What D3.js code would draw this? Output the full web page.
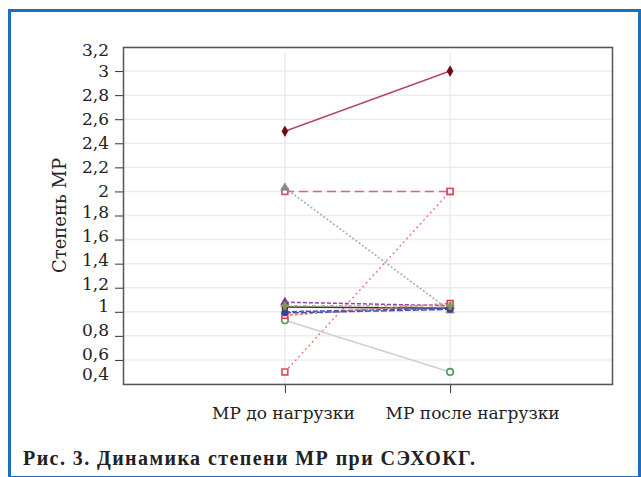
<!DOCTYPE html>
<html>
<head>
<meta charset="utf-8">
<script src="https://cdn.jsdelivr.net/npm/d3@7"></script>
<style>
  body { margin: 0; background: #fff; }
  svg { display: block; }
</style>
</head>
<body>
<script>
// data
const categories = ['МР до нагрузки', 'МР после нагрузки'];
const before     = [2.5, 2.0, 2.03, 0.5, 0.93, 1.08, 1.04, 1.0, 0.97, 0.99, 1.05];
const after      = [3.0, 2.0, 1.01, 2.0, 0.5, 1.05, 1.03, 1.03, 1.07, 1.02, 1.05];
const yTicks     = [0.4, 0.6, 0.8, 1, 1.2, 1.4, 1.6, 1.8, 2, 2.2, 2.4, 2.6, 2.8, 3, 3.2];
const caption    = 'Рис. 3. Динамика степени МР при СЭХОКГ.';
const yTitle     = 'Степень МР';

// styles per series
const lineColors  = ['#b04a62', '#d6609a', '#a8a8a8', '#f27a7a', '#cfcfcf', '#8a4aa8', '#333', '#4058c0', '#e8707a', '#5050a0', '#b0b080'];
const markColors  = ['#6e0a18', '#d04a8a', '#8a8a8a', '#e24a5a', '#4e9e58', '#7a3a9a', '#222', '#3a4ab8', '#e03a4a', '#404090', '#909060'];
const dashes      = [null, '9,5', '2,2', '2,3', null, '4,2', null, '5,2', '3,2', '6,2', '4,2,1,2'];
const shapes      = ['diamond', 'squareOpen', 'triangle', 'squareOpen', 'circleOpen', 'triangle', 'square', 'circle', 'squareOpen', 'circle', 'cross'];

const W = 641, H = 477;
const margin = {left: 123, right: 29, top: 47, bottom: 93};

const svg = d3.select('body').append('svg')
  .attr('width', W)
  .attr('height', H);

// outer blue frame
svg.append('rect')
  .attr('x', 9.5).attr('y', 10.5)
  .attr('width', 630).attr('height', 467)
  .attr('fill', 'none')
  .attr('stroke', '#1c6fbf')
  .attr('stroke-width', 3);

const x = d3.scalePoint()
  .domain(categories)
  .range([margin.left, W - margin.right])
  .padding(0.98);

const y = d3.scaleLinear()
  .domain([0.4, 3.2])
  .range([H - margin.bottom, margin.top]);

// grid
svg.append('g')
  .selectAll('line')
  .data(yTicks)
  .enter().append('line')
  .attr('x1', margin.left).attr('x2', W - margin.right)
  .attr('y1', d => y(d)).attr('y2', d => y(d))
  .attr('stroke', '#ececec')
  .attr('stroke-width', 1.5);

svg.append('g')
  .selectAll('line')
  .data(categories)
  .enter().append('line')
  .attr('x1', d => x(d)).attr('x2', d => x(d))
  .attr('y1', margin.top + 6).attr('y2', H - margin.bottom)
  .attr('stroke', '#ececec')
  .attr('stroke-width', 1.5);

// y axis
const yAxis = svg.append('g')
  .attr('transform', 'translate(' + margin.left + ',0)')
  .call(d3.axisLeft(y).tickValues(yTicks).tickSize(8).tickFormat(d => String(d).replace('.', ',')));
yAxis.select('.domain').remove();
yAxis.selectAll('.tick line').attr('stroke', '#333');
yAxis.selectAll('.tick text')
  .attr('x', -14)
  .attr('dy', null)
  .attr('y', d => d === 0.4 ? -5 : d <= 1 ? 0 : d < 2 ? 2 : d >= 3.2 ? 8 : 5)
  .style('font-family', '"DejaVu Serif", serif')
  .style('font-size', '17px')
  .attr('fill', '#222');
yAxis.selectAll('.tick').filter(d => d === 0.4 || d === 3.2).select('line').remove();

// x axis
const xAxis = svg.append('g')
  .attr('transform', 'translate(0,' + (H - margin.bottom) + ')')
  .call(d3.axisBottom(x).tickSize(9).tickPadding(14));
xAxis.select('.domain').remove();
xAxis.selectAll('.tick line').attr('stroke', '#333');
xAxis.selectAll('.tick text')
  .style('font-family', '"DejaVu Serif", serif')
  .style('font-size', '17px')
  .attr('fill', '#222')
  .attr('dx', (d, i) => i === 1 ? 22 : -2);

// plot frame
svg.append('rect')
  .attr('x', margin.left + 0.5).attr('y', margin.top + 0.5)
  .attr('width', W - margin.left - margin.right)
  .attr('height', H - margin.top - margin.bottom)
  .attr('fill', 'none')
  .attr('stroke', '#555')
  .attr('stroke-width', 1.5);

// y title
svg.append('text')
  .attr('transform', 'translate(66,' + ((margin.top + H - margin.bottom) / 2) + ') rotate(-90)')
  .attr('text-anchor', 'middle')
  .style('font-family', '"DejaVu Serif", serif')
  .style('font-size', '18px')
  .attr('fill', '#222')
  .text(yTitle);

// series lines
const series = before.map((b, i) => ({i, values: [b, after[i]]}));
const line = d3.line()
  .x((d, k) => x(categories[k]))
  .y(d => y(d));

const gs = svg.append('g');
series.forEach(s => {
  gs.append('path')
    .attr('d', line(s.values))
    .attr('fill', 'none')
    .attr('stroke', lineColors[s.i])
    .attr('stroke-width', 1.5)
    .attr('stroke-dasharray', dashes[s.i]);
});

// markers
const symbolOf = {
  diamond: d3.symbolDiamond, squareOpen: d3.symbolSquare, triangle: d3.symbolTriangle,
  circleOpen: d3.symbolCircle, square: d3.symbolSquare, circle: d3.symbolCircle, cross: d3.symbolCross
};
series.forEach(s => {
  const shape = shapes[s.i];
  const open = shape.endsWith('Open');
  s.values.forEach((v, k) => {
    gs.append('path')
      .attr('transform', 'translate(' + x(categories[k]) + ',' + y(v) + ')')
      .attr('d', d3.symbol().type(symbolOf[shape]).size(open ? 34 : 30)())
      .attr('fill', open ? '#fff' : markColors[s.i])
      .attr('stroke', markColors[s.i])
      .attr('stroke-width', open ? 1.6 : 0.8);
  });
});

// caption
svg.append('text')
  .attr('x', 23)
  .attr('y', 465)
  .attr('textLength', 452)
  .attr('lengthAdjust', 'spacing')
  .style('font-family', '"Liberation Serif", serif')
  .style('font-weight', 'bold')
  .style('font-size', '20px')
  .attr('fill', '#222')
  .text(caption);
</script>
</body>
</html>
